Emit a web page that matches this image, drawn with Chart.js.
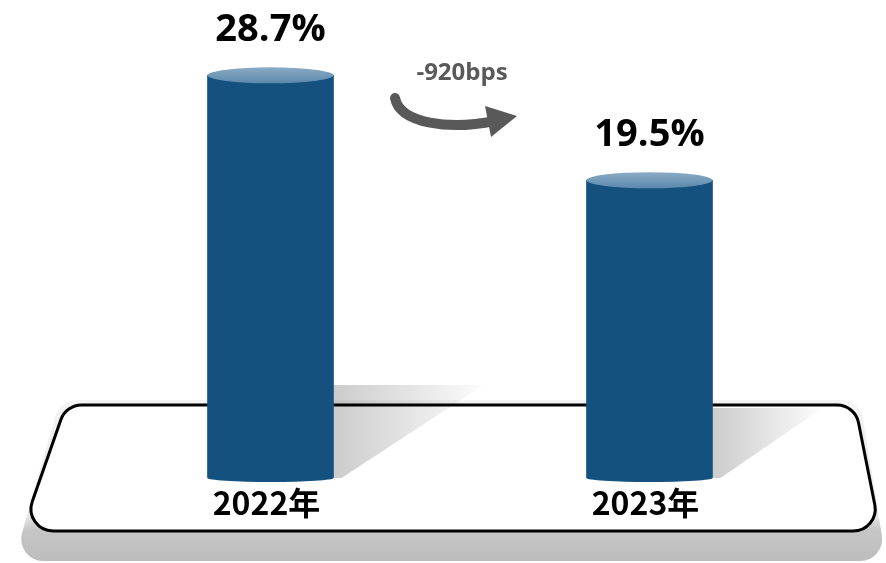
<!DOCTYPE html>
<html>
<head>
<meta charset="utf-8">
<script src="https://cdn.jsdelivr.net/npm/chart.js@4.4.1/dist/chart.umd.min.js"></script>
<style>
    html, body { margin: 0; padding: 0; background: #ffffff; }
    #wrap { width: 886px; height: 563px; position: relative; }
</style>
</head>
<body>
<div id="wrap"><canvas id="marginChart"></canvas></div>
<script>
"use strict";
// chart data
var categories = ["2022年", "2023年"];
var marginValues = [28.7, 19.5];
var changeLabel = "-920bps";
// value axis range (bars start at the bottom of the range)
var axisMin = -6.6;
var axisMax = 35.3;

var barColor = "#14517e";
var labelFont = "'Open Sans', 'Noto Sans CJK SC', sans-serif";

function roundedPoly(ctx, pts, r) {
    var n = pts.length;
    ctx.beginPath();
    var sx = (pts[n - 1][0] + pts[0][0]) / 2, sy = (pts[n - 1][1] + pts[0][1]) / 2;
    ctx.moveTo(sx, sy);
    for (var i = 0; i < n; i++) {
        var p = pts[i], q = pts[(i + 1) % n];
        ctx.arcTo(p[0], p[1], q[0], q[1], r);
    }
    ctx.closePath();
}

// ------------------------------------------------------- //
// platform + shadows under the bars
// ------------------------------------------------------ //
var platformPlugin = {
    id: "platform",
    beforeDatasetsDraw: function (chart) {
        var ctx = chart.ctx;
        ctx.save();
        // gray base
        var g = ctx.createLinearGradient(0, 400, 0, 562);
        g.addColorStop(0, "#f4f4f4");
        g.addColorStop(0.72, "#e6e6e6");
        g.addColorStop(0.8, "#c6c6c6");
        g.addColorStop(1, "#bcbcbc");
        ctx.fillStyle = g;
        roundedPoly(ctx, [[60, 400], [860, 400], [886, 561], [14, 561]], 22);
        ctx.fill();
        // white top
        ctx.fillStyle = "#ffffff";
        ctx.strokeStyle = "#000000";
        ctx.lineWidth = 3;
        roundedPoly(ctx, [[66, 405], [855, 405], [880, 531], [22, 531]], 22);
        ctx.fill();
        ctx.stroke();

        // bar shadows
        var meta = chart.getDatasetMeta(0);
        var tops = [385, 408];
        var reach = [150, 110];
        meta.data.forEach(function (bar, i) {
            var right = bar.x + bar.width / 2;
            var sg = ctx.createLinearGradient(right, 0, right + reach[i], 0);
            sg.addColorStop(0, "rgba(0,0,0,0.2)");
            sg.addColorStop(1, "rgba(0,0,0,0.01)");
            ctx.fillStyle = sg;
            ctx.beginPath();
            ctx.moveTo(right, tops[i]);
            ctx.lineTo(right + reach[i], tops[i]);
            ctx.lineTo(right + 8, bar.base);
            ctx.lineTo(right, bar.base);
            ctx.closePath();
            ctx.fill();
        });
        ctx.restore();
    }
};

// ------------------------------------------------------- //
// cylinder caps, labels and change arrow
// ------------------------------------------------------ //
var cylinderPlugin = {
    id: "cylinder",
    afterDatasetsDraw: function (chart) {
        var ctx = chart.ctx;
        var meta = chart.getDatasetMeta(0);
        ctx.save();
        meta.data.forEach(function (bar, i) {
            var rx = bar.width / 2, ry = 8;
            // rounded bottom
            ctx.fillStyle = barColor;
            ctx.beginPath();
            ctx.ellipse(bar.x, bar.base, rx, ry / 2, 0, 0, Math.PI);
            ctx.fill();
            // lighter top
            var tg = ctx.createLinearGradient(0, bar.y - ry, 0, bar.y + ry);
            tg.addColorStop(0, "#8aabc4");
            tg.addColorStop(1, "#5c89ad");
            ctx.fillStyle = tg;
            ctx.beginPath();
            ctx.ellipse(bar.x, bar.y, rx, ry, 0, 0, Math.PI * 2);
            ctx.fill();

            // value label
            ctx.fillStyle = "#000000";
            ctx.textAlign = "center";
            ctx.textBaseline = "middle";
            ctx.font = "bold 38px " + labelFont;
            ctx.fillText(marginValues[i].toFixed(1) + "%", bar.x, bar.y - 45);
            // category label
            ctx.font = "bold 32px 'Noto Sans CJK SC', sans-serif";
            ctx.fillText(categories[i], bar.x - 4, 503);
        });

        // change annotation
        var mid = (meta.data[0].x + meta.data[1].x) / 2;
        ctx.fillStyle = "#595959";
        ctx.font = "bold 24px " + labelFont;
        ctx.fillText(changeLabel, mid + 2, 73);

        ctx.strokeStyle = "#595959";
        ctx.lineWidth = 10;
        ctx.lineCap = "round";
        ctx.beginPath();
        ctx.moveTo(mid - 65, 98);
        ctx.bezierCurveTo(mid - 60, 124, mid - 10, 130, mid + 35, 121);
        ctx.stroke();
        ctx.beginPath();
        ctx.moveTo(mid + 57, 116);
        ctx.lineTo(mid + 25, 106);
        ctx.lineTo(mid + 31, 137);
        ctx.closePath();
        ctx.fill();
        ctx.restore();
    }
};

var CANVAS = document.getElementById("marginChart");
var marginChart = new Chart(CANVAS, {
    type: "bar",
    plugins: [platformPlugin, cylinderPlugin],
    data: {
        labels: categories,
        datasets: [
            {
                data: marginValues,
                base: axisMin,
                backgroundColor: barColor,
                borderWidth: 0,
                barThickness: 126,
            },
        ],
    },
    options: {
        responsive: true,
        maintainAspectRatio: false,
        animation: false,
        layout: {
            padding: { left: 81, right: 47, top: 0, bottom: 85 },
        },
        plugins: {
            legend: { display: false },
            tooltip: { enabled: false },
        },
        scales: {
            x: { display: false },
            y: { display: false, min: axisMin, max: axisMax },
        },
    },
});
</script>
</body>
</html>
